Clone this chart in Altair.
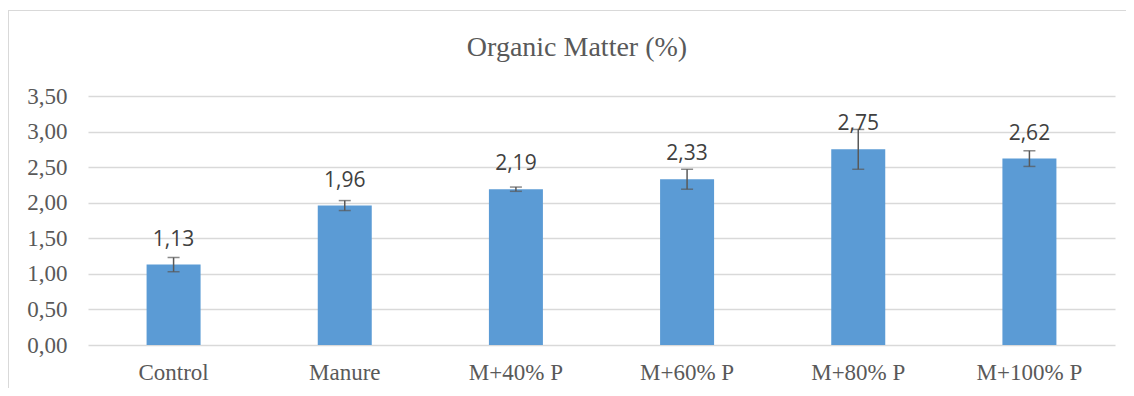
import altair as alt
import pandas as pd

categories = ["Control", "Manure", "M+40% P", "M+60% P", "M+80% P", "M+100% P"]
values = [1.13, 1.96, 2.19, 2.33, 2.75, 2.62]
errors = [0.10, 0.07, 0.03, 0.14, 0.28, 0.11]
y_ticks = [0, 0.5, 1, 1.5, 2, 2.5, 3, 3.5]
title_text = "Organic Matter (%)"

df = pd.DataFrame({"cat": categories, "value": values, "err": errors})
df["lo"] = df["value"] - df["err"]
df["hi"] = df["value"] + df["err"]

TEXT = "#595959"
GRID = "#d9d9d9"
W, H = 1027, 249

x_axis = alt.Axis(labelAngle=0, labelFont="Liberation Serif", labelFontSize=23,
                  labelColor=TEXT, labelPadding=16, ticks=False, domain=False,
                  labelOverlap=False)
y_axis = alt.Axis(values=y_ticks,
                  labelExpr="replace(format(datum.value, '.2f'), '.', ',')",
                  labelFont="Liberation Serif", labelFontSize=23, labelColor=TEXT,
                  labelPadding=21, ticks=False, domain=False, labelOverlap=False,
                  grid=True, gridColor=GRID, gridWidth=1.5)
y_scale = alt.Scale(domain=[0, 3.5], nice=False)


def X():
    return alt.X("cat:N", sort=categories, title=None, axis=x_axis)


def Y(field):
    return alt.Y(field, title=None, scale=y_scale, axis=y_axis)


base = alt.Chart(df)

bars = base.mark_bar(size=54, color="#5B9BD5").encode(x=X(), y=Y("value:Q"))

rule = base.mark_rule(color=TEXT, strokeWidth=1.5).encode(
    x=X(), y=Y("lo:Q"), y2="hi:Q")
cap_lo = base.mark_tick(orient="horizontal", size=12, thickness=1.5, color=TEXT).encode(
    x=X(), y=Y("lo:Q"))
cap_hi = base.mark_tick(orient="horizontal", size=12, thickness=1.5, color=TEXT).encode(
    x=X(), y=Y("hi:Q"))

labels = base.transform_calculate(
    lab="replace(format(datum.value, '.2f'), '.', ',')"
).mark_text(font="Open Sans", fontSize=21, color="#404040", baseline="middle", dy=-25).encode(
    x=X(), y=Y("value:Q"), text="lab:N")

title_mark = alt.Chart(alt.Data(values=[{"t": title_text}])).mark_text(
    font="Liberation Serif", fontSize=28, color=TEXT, baseline="middle", align="center"
).encode(x=alt.value(489), y=alt.value(-48), text="t:N")

frame_top = base.mark_rule(color=GRID, strokeWidth=1).encode(
    x=alt.value(-80), x2=alt.value(1038), y=alt.value(-85.5))
frame_left = base.mark_rule(color=GRID, strokeWidth=1).encode(
    x=alt.value(-79.5), y=alt.value(-86), y2=alt.value(292))

chart = alt.layer(bars, rule, cap_lo, cap_hi, labels, title_mark, frame_top, frame_left).properties(
    width=W, height=H,
    autosize=alt.AutoSizeParams(type="none"),
    padding={"left": 80, "top": 88, "right": 11, "bottom": 43},
).configure(background="white").configure_view(strokeWidth=0, stroke="transparent")

chart.save("out.html", embed_options={"renderer": "svg", "actions": False})
